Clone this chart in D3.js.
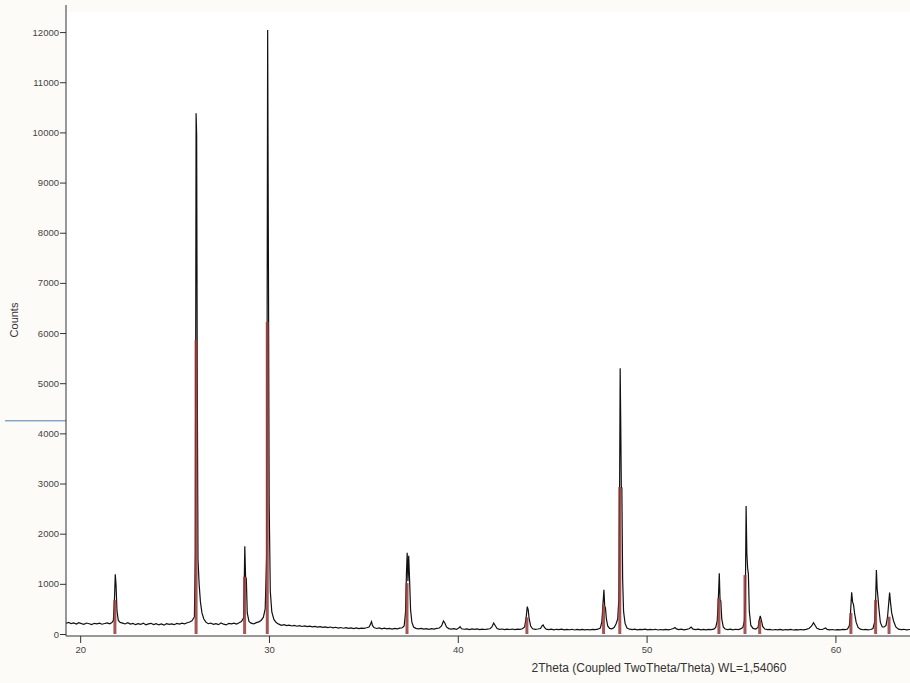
<html>
<head>
<title>XRD scan</title>
<script src="https://cdn.jsdelivr.net/npm/d3@7"></script>
<style>
body { margin: 0; background: #fdfbf7; }
svg { display: block; }
text { font-family: 'Liberation Sans', Arial, sans-serif; }
</style>
</head>
<body>
<svg></svg>
<script>

// measured scan: [2theta, counts]
var scan = [
[19.25,215],[19.40,232],[19.52,206],[19.66,221],[19.80,199],[19.93,226],[20.07,208],[20.20,194],
[20.34,219],[20.48,204],[20.61,189],[20.75,213],[20.89,201],[21.02,216],[21.16,195],[21.30,209],
[21.43,222],[21.57,203],[21.68,228],[21.76,270],[21.82,720],[21.86,1190],[21.90,980],[21.95,460],
[22.02,270],[22.12,232],[22.25,218],[22.38,200],[22.52,224],[22.66,197],[22.80,211],[22.93,186],
[23.07,206],[23.21,191],[23.34,217],[23.48,182],[23.62,201],[23.75,213],[23.89,189],[24.03,206],
[24.16,181],[24.30,199],[24.44,176],[24.57,206],[24.71,191],[24.85,201],[24.98,186],[25.12,211],
[25.26,199],[25.39,216],[25.53,202],[25.67,224],[25.80,238],[25.92,262],[26.05,340],[26.10,1600],
[26.14,10380],[26.17,9950],[26.20,5400],[26.24,1500],[26.30,1000],[26.37,640],[26.45,420],[26.55,300],
[26.66,236],[26.78,205],[26.92,218],[27.05,193],[27.19,207],[27.33,186],[27.46,222],[27.60,196],
[27.74,181],[27.87,212],[28.01,201],[28.15,216],[28.28,198],[28.42,225],[28.54,250],[28.66,320],
[28.72,1750],[28.76,1140],[28.80,1100],[28.85,420],[28.94,250],[29.05,216],[29.19,201],[29.33,227],
[29.46,242],[29.58,270],[29.70,330],[29.80,500],[29.88,1600],[29.93,12040],[29.97,7500],[30.01,2600],
[30.07,850],[30.15,440],[30.26,290],[30.38,228],[30.52,196],[30.66,172],[30.80,185],[30.93,166],
[31.07,178],[31.21,160],[31.34,171],[31.48,155],[31.62,168],[31.75,150],[31.89,162],[32.03,146],
[32.16,158],[32.30,141],[32.44,152],[32.57,136],[32.71,147],[32.85,131],[32.98,143],[33.12,128],
[33.26,139],[33.39,122],[33.53,134],[33.67,118],[33.80,129],[33.94,115],[34.08,126],[34.21,112],
[34.35,123],[34.49,109],[34.62,121],[34.76,107],[34.90,118],[35.03,112],[35.17,125],[35.30,140],
[35.38,200],[35.43,245],[35.48,170],[35.56,128],[35.70,110],[35.84,121],[35.97,104],[36.11,116],
[36.25,101],[36.38,113],[36.52,99],[36.66,110],[36.79,104],[36.93,118],[37.06,125],[37.16,160],
[37.23,420],[37.28,1200],[37.32,1620],[37.36,1050],[37.40,1560],[37.45,1050],[37.50,480],[37.57,230],
[37.66,140],[37.78,112],[37.92,101],[38.06,113],[38.20,97],[38.33,108],[38.47,94],[38.61,106],
[38.74,99],[38.88,112],[39.02,120],[39.14,160],[39.24,260],[39.32,215],[39.40,140],[39.52,108],
[39.66,96],[39.80,105],[39.93,92],[40.05,120],[40.12,145],[40.20,104],[40.34,95],[40.48,103],
[40.61,89],[40.75,100],[40.89,92],[41.02,102],[41.16,88],[41.30,98],[41.43,90],[41.57,99],
[41.70,104],[41.80,135],[41.90,220],[41.98,170],[42.08,110],[42.20,94],[42.34,100],[42.48,87],
[42.61,97],[42.75,90],[42.89,99],[43.02,86],[43.16,96],[43.30,92],[43.42,105],[43.54,140],
[43.62,330],[43.68,545],[43.73,480],[43.78,300],[43.86,160],[43.96,104],[44.10,92],[44.24,100],
[44.38,110],[44.47,165],[44.52,180],[44.58,135],[44.68,98],[44.82,88],[44.95,96],[45.09,84],
[45.23,94],[45.36,86],[45.50,95],[45.64,82],[45.77,92],[45.91,85],[46.05,94],[46.18,80],
[46.32,91],[46.46,84],[46.59,93],[46.73,81],[46.87,90],[47.00,83],[47.14,92],[47.28,86],
[47.42,96],[47.55,120],[47.63,240],[47.69,600],[47.74,880],[47.78,560],[47.82,520],[47.87,300],
[47.94,160],[48.04,112],[48.16,104],[48.28,130],[48.38,200],[48.47,300],[48.53,700],[48.57,2900],
[48.60,5300],[48.63,4200],[48.66,2950],[48.69,2900],[48.73,1100],[48.78,450],[48.86,210],[48.96,118],
[49.10,96],[49.24,88],[49.37,97],[49.51,84],[49.65,93],[49.78,86],[49.92,96],[50.06,82],
[50.19,91],[50.33,85],[50.47,94],[50.60,80],[50.74,90],[50.88,84],[51.01,93],[51.15,81],
[51.29,95],[51.42,110],[51.50,130],[51.58,102],[51.70,88],[51.84,96],[51.97,83],[52.11,92],
[52.25,105],[52.36,140],[52.46,98],[52.60,86],[52.74,95],[52.87,82],[53.01,91],[53.15,84],
[53.28,93],[53.42,86],[53.56,98],[53.66,130],[53.74,260],[53.80,700],[53.85,1210],[53.89,680],
[53.93,660],[53.98,300],[54.06,140],[54.16,100],[54.30,89],[54.44,97],[54.57,84],[54.71,95],
[54.85,88],[54.98,102],[55.10,130],[55.18,260],[55.23,700],[55.27,2550],[55.31,1600],[55.35,1315],
[55.39,1200],[55.44,450],[55.52,170],[55.64,112],[55.78,98],[55.90,130],[55.97,280],[56.02,360],
[56.08,270],[56.15,150],[56.26,98],[56.40,86],[56.53,93],[56.67,80],[56.81,90],[56.94,83],
[57.08,92],[57.22,79],[57.35,89],[57.49,82],[57.63,91],[57.76,80],[57.90,88],[58.04,81],
[58.17,90],[58.31,84],[58.45,93],[58.60,110],[58.74,160],[58.84,225],[58.92,175],[59.02,115],
[59.16,92],[59.30,90],[59.42,110],[59.48,120],[59.56,92],[59.70,83],[59.84,90],[59.97,80],
[60.11,89],[60.25,82],[60.39,91],[60.52,86],[60.64,100],[60.74,170],[60.80,420],[60.86,830],
[60.91,640],[60.96,580],[61.02,400],[61.10,230],[61.20,130],[61.32,96],[61.46,85],[61.59,93],
[61.73,82],[61.87,90],[61.99,110],[62.08,240],[62.13,680],[62.17,1275],[62.21,900],[62.25,745],
[62.30,520],[62.38,230],[62.48,140],[62.58,140],[62.68,170],[62.76,340],[62.82,600],[62.87,825],
[62.92,620],[62.98,420],[63.08,260],[63.20,140],[63.34,96],[63.48,88],[63.62,94],[63.76,84],
[63.95,90]
];

// reference pattern peaks (red)
var refAngle = [21.84, 26.14, 28.71, 29.91, 37.31, 43.66, 47.72, 48.58, 53.83, 55.21, 55.99, 60.82, 62.13, 62.84];
var refIntensity = [680, 5860, 1140, 6220, 1015, 330, 580, 2930, 720, 1175, 280, 420, 680, 345];

var xTicks = [20, 30, 40, 50, 60];
var yTicks = [0, 1000, 2000, 3000, 4000, 5000, 6000, 7000, 8000, 9000, 10000, 11000, 12000];

var xLabel = "2Theta (Coupled TwoTheta/Theta) WL=1,54060";
var yLabel = "Counts";

var width = 910;
var height = 683;
var plotLeft = 66, plotRight = 910, plotTop = 5, zeroY = 634, axisY = 636;

var svg = d3.select("svg").attr("width", width).attr("height", height);

var xScale = d3.scaleLinear().domain([19.25, 63.95]).range([plotLeft, plotRight]);
var yScale = d3.scaleLinear().domain([0, 12540]).range([zeroY, plotTop]);

svg.append("rect")
.attr("x", plotLeft).attr("y", 12)
.attr("width", plotRight - plotLeft).attr("height", axisY - 12)
.style("fill", "#ffffff");

// stray marker line on the left margin
svg.append("line")
.attr("x1", 5).attr("x2", plotLeft)
.attr("y1", yScale(4250)).attr("y2", yScale(4250))
.style("stroke", "#4a7fb0").style("stroke-width", 1);

// measured curve
var line = d3.line()
.x(function(d) { return xScale(d[0]); })
.y(function(d) { return yScale(d[1]); });

svg.append("path")
.datum(scan)
.attr("d", line)
.style("fill", "none")
.style("stroke", "#111")
.style("stroke-width", 1.2);

// reference sticks
svg.selectAll("rect.ref").data(refAngle).enter().append("rect")
.attr("class", "ref")
.attr("x", function(d) { return xScale(d) - 1.5; })
.attr("width", 3)
.attr("y", function(d, i) { return yScale(refIntensity[i]); })
.attr("height", function(d, i) { return yScale(0) - yScale(refIntensity[i]); })
.style("fill", "#983838")
.style("opacity", 0.85);

// y axis
var yMinor = d3.range(0, 12501, 100);
var yAxisMinor = d3.axisLeft(yScale).tickValues(yMinor).tickSize(3).tickFormat("");
var yAxis = d3.axisLeft(yScale).tickValues(yTicks).tickSize(6).tickPadding(1).tickFormat(d3.format("d"));

var gy = svg.append("g").attr("transform", "translate(" + plotLeft + ",0)");
gy.call(yAxisMinor);
gy.call(yAxis);
gy.select(".domain").remove();
gy.append("line")
.attr("x1", 0).attr("x2", 0).attr("y1", plotTop).attr("y2", axisY)
.style("stroke", "#333");

// x axis
var xMinor = d3.range(20, 64, 1);
var xMid = [25, 35, 45, 55];
var gx = svg.append("g").attr("transform", "translate(0," + axisY + ")");
gx.call(d3.axisBottom(xScale).tickValues(xMinor).tickSize(3).tickFormat(""));
gx.call(d3.axisBottom(xScale).tickValues(xMid).tickSize(5).tickFormat(""));
gx.call(d3.axisBottom(xScale).tickValues(xTicks).tickSize(7).tickPadding(3));
gx.selectAll(".domain").remove();
gx.append("line")
.attr("x1", plotLeft).attr("x2", plotRight).attr("y1", 0).attr("y2", 0)
.style("stroke", "#333");

svg.selectAll(".tick line").style("stroke", "#333");
svg.selectAll(".tick text")
.style("font-family", "'Liberation Sans', Arial, sans-serif")
.style("font-size", "9.5px")
.style("fill", "#444");

svg.append("text")
.attr("x", 659).attr("y", 672)
.attr("text-anchor", "middle")
.style("font-size", "12px")
.style("fill", "#333")
.text(xLabel);

svg.append("text")
.attr("transform", "translate(18,320) rotate(-90)")
.attr("text-anchor", "middle")
.style("font-size", "11px")
.style("fill", "#333")
.text(yLabel);

</script>
</body>
</html>
